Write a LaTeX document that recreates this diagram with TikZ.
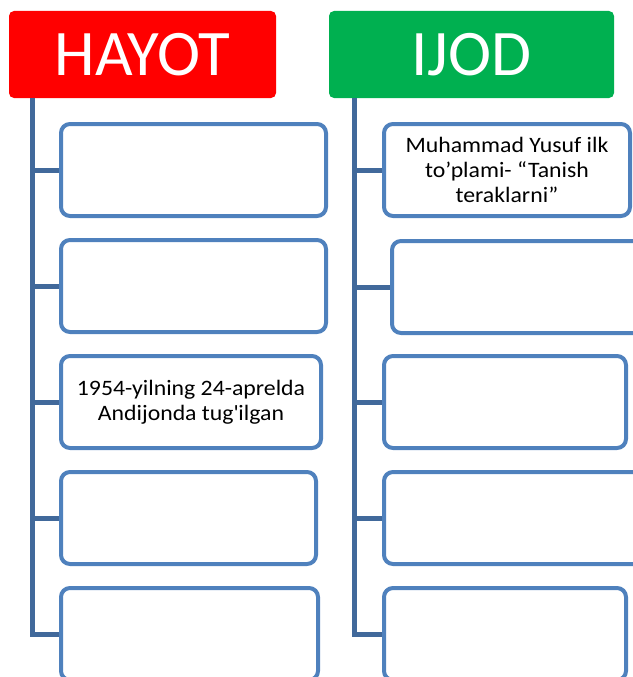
\documentclass[tikz,border=0pt]{standalone}
\usepackage{fontspec}
\setmainfont{Carlito}
\newfontfamily\itemfont{Carlito}[FakeStretch=1.08]
\definecolor{trunk}{RGB}{65,105,155}
\definecolor{boxline}{RGB}{79,129,189}
\definecolor{hayotred}{RGB}{255,0,0}
\definecolor{ijodgreen}{RGB}{0,176,80}

\begin{document}
\begin{tikzpicture}[
x=1pt,y=-1pt,
headnode/.style={
  rounded corners=5pt,
  text=white,
  inner sep=0pt,
  minimum height=87pt,
  font=\fontsize{65}{70}\selectfont
  },
itemnode/.style={
  draw=boxline,
  line width=4pt,
  rounded corners=9pt,
  inner sep=0pt,
  minimum height=92pt,
  align=center,
  font=\itemfont\fontsize{22}{25}\selectfont
  },
stem/.style={draw=trunk,line width=5pt}
]
\useasboundingbox (0,0) rectangle (632,677);
\node[headnode,fill=hayotred,minimum width=267pt] (hayot) at (142.5,54.5) {HAYOT};
\node[headnode,fill=ijodgreen,minimum width=285pt] (ijod) at (471.5,54.5) {IJOD};
\coordinate (hroot) at ([xshift=24pt]hayot.south west);
\coordinate (iroot) at ([xshift=26pt]ijod.south west);
\foreach \Name/\X/\Y/\W in {h1/193.5/170/265,h2/193.5/286/265,h4/188.5/518/255,h5/189.5/634/257,
  i2/526/287/268,i3/505/402/242,i4/517/518/266,i5/505/634/242}
  \node[itemnode,minimum width=\W pt] (\Name) at (\X,\Y) {};
\node[itemnode,minimum width=260pt] (h3) at (191,402)
  {1954-yilning 24-aprelda\\Andijonda tug\textquotesingle ilgan};
\node[itemnode,minimum width=246pt] (i1) at (507,170)
  {Muhammad Yusuf ilk\\to’plami- “Tanish\\teraklarni”};
\draw[stem] (hroot) -- (hroot |- h5.west) -- (h5.west);
\draw[stem] (iroot) -- (iroot |- i5.west) -- (i5.west);
\foreach \Value in {1,...,4}
  \draw[stem] (hroot |- h\Value.west) -- (h\Value.west)
              (iroot |- i\Value.west) -- (i\Value.west);
\end{tikzpicture}
\end{document}
